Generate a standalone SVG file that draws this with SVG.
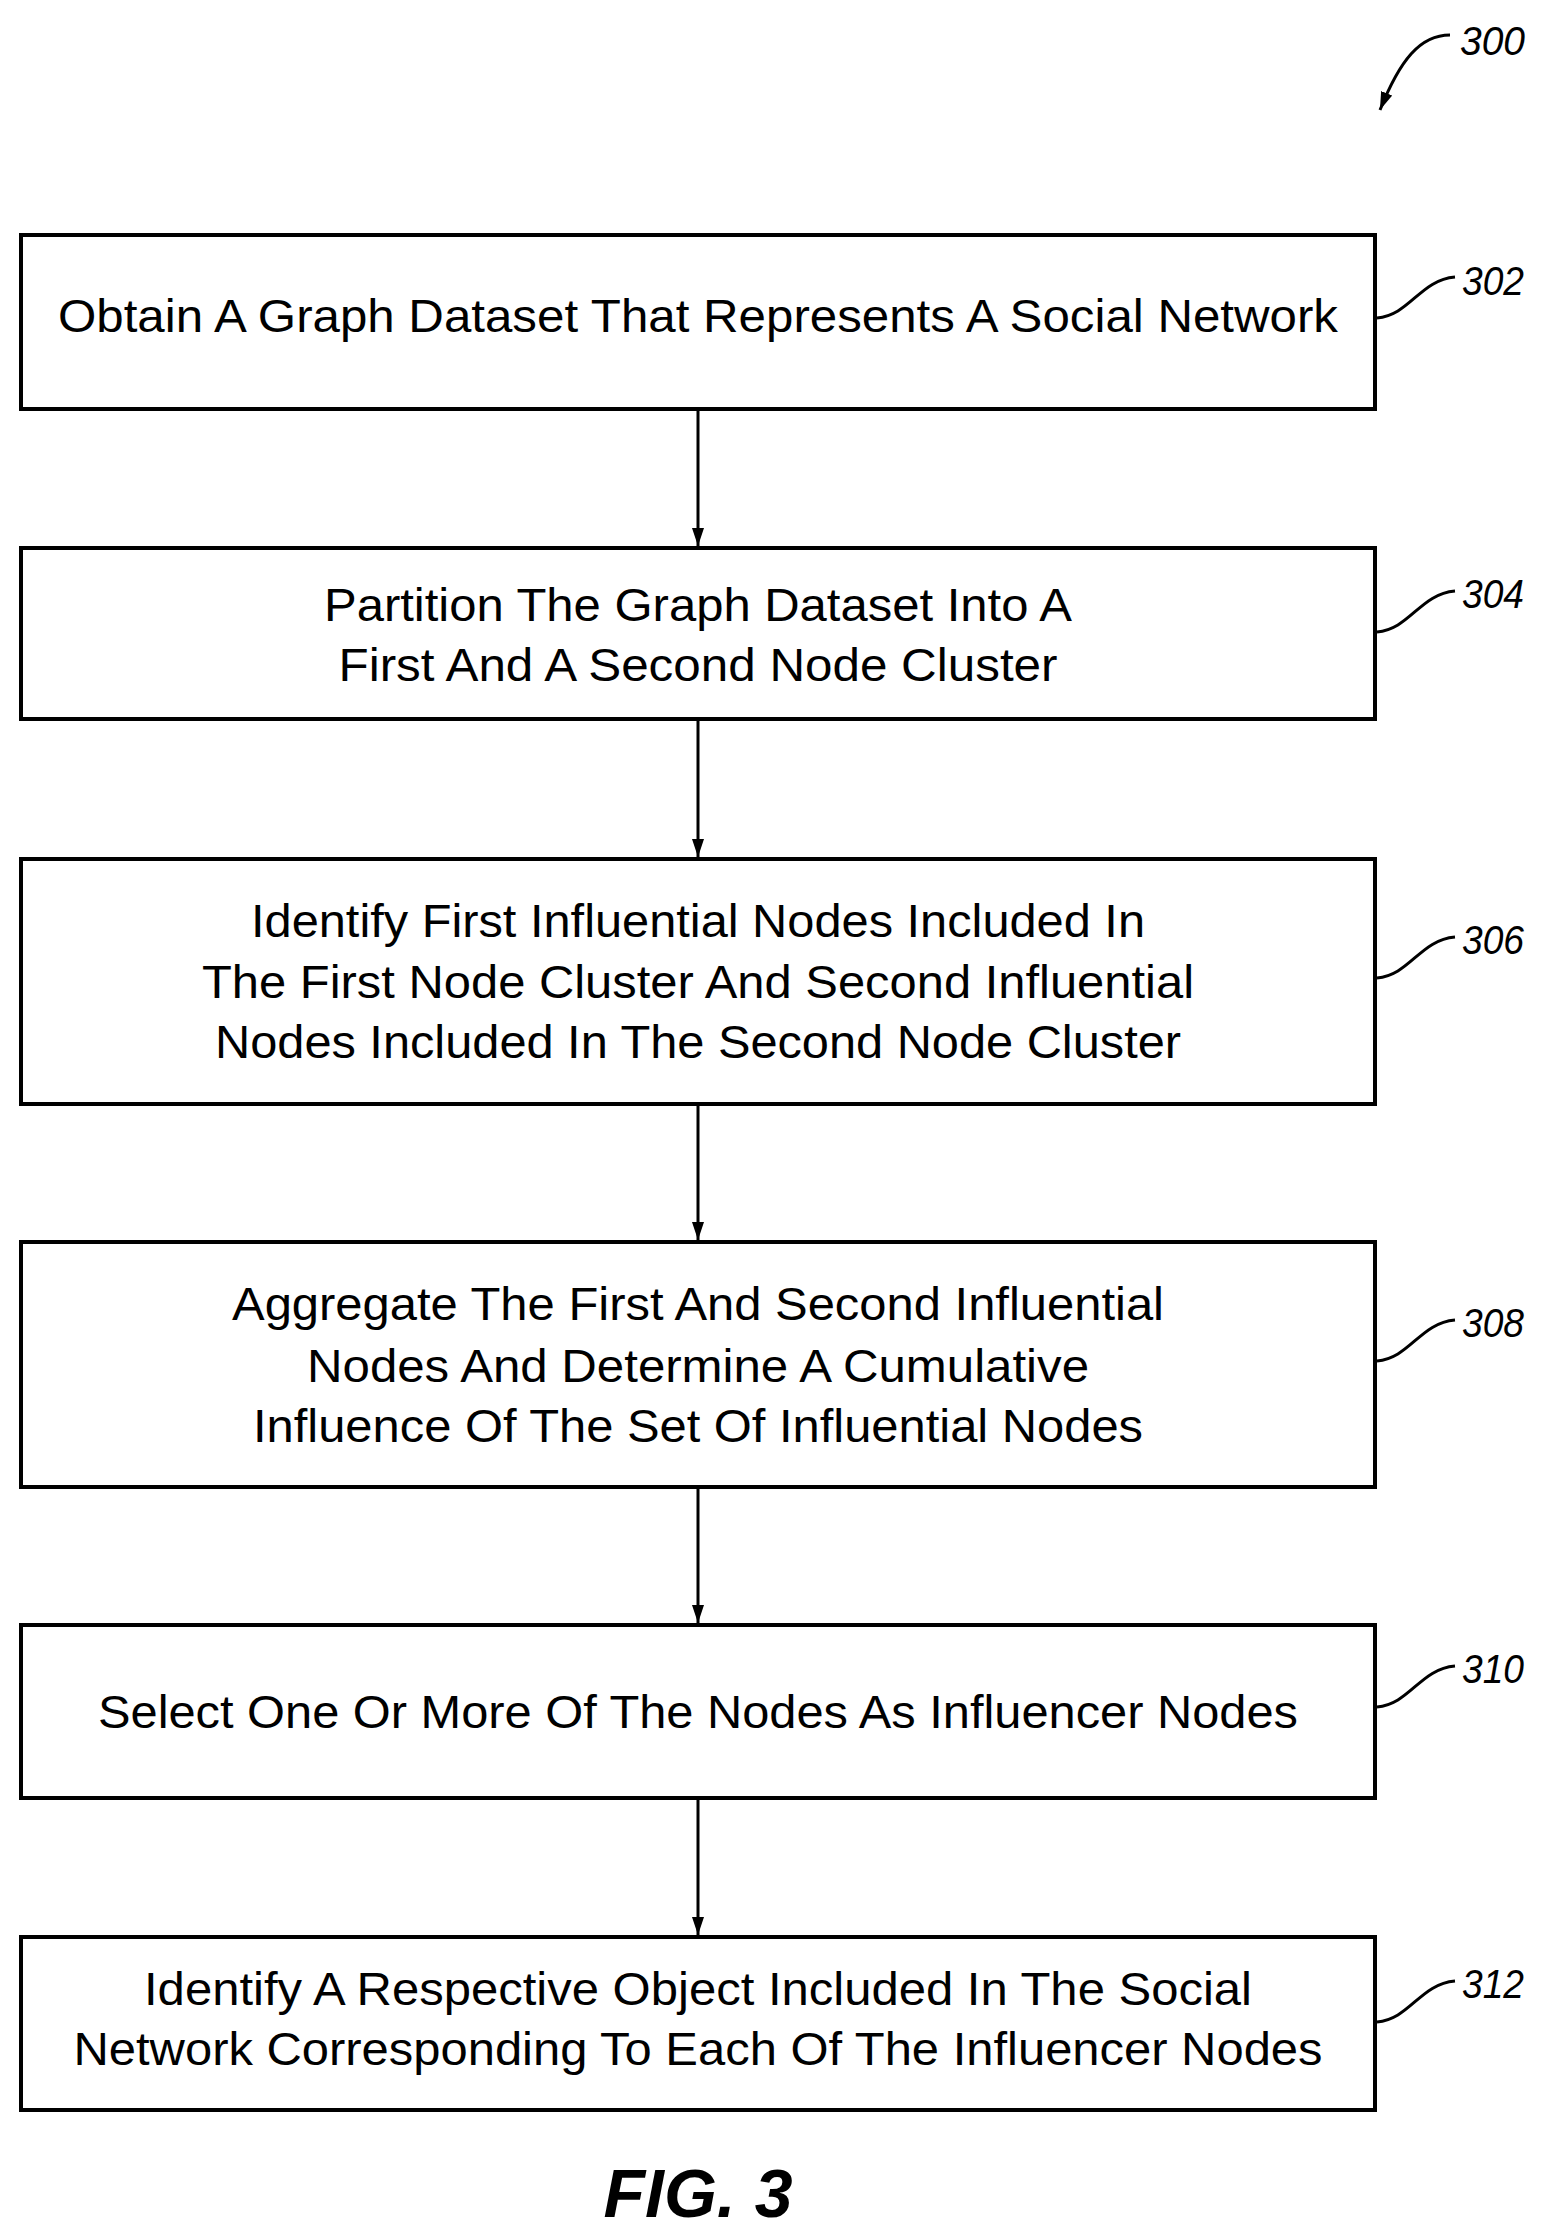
<svg xmlns="http://www.w3.org/2000/svg" width="1544" height="2230" viewBox="0 0 1544 2230">
<style>
.box{fill:#fff;stroke:#000;stroke-width:4}
.t{font-family:"Liberation Sans",sans-serif;font-size:46px;text-anchor:middle;fill:#000}
.ref{font-family:"Liberation Sans",sans-serif;font-size:40px;font-style:italic;fill:#000}
.ln{fill:none;stroke:#000;stroke-width:3}
</style>
<defs><marker id="ah" markerWidth="18" markerHeight="12" refX="18" refY="6" orient="auto" markerUnits="userSpaceOnUse" viewBox="0 0 18 12"><path d="M0,0 L18,6 L0,12 Z" fill="#000"/></marker></defs>
<rect width="1544" height="2230" fill="#fff"/>
<g id="n300"><text class="ref" x="1460" y="55" textLength="65" lengthAdjust="spacingAndGlyphs">300</text><path class="ln" d="M1450,35 C1420,35 1400,60 1380,110" marker-end="url(#ah)"/></g>
<g id="n302"><rect class="box" x="21" y="235" width="1354" height="174"/><text class="t" x="698" y="332" textLength="1280" lengthAdjust="spacingAndGlyphs">Obtain A Graph Dataset That Represents A Social Network</text><text class="ref" x="1462" y="295" textLength="62" lengthAdjust="spacingAndGlyphs">302</text><path class="ln" d="M1377,318 C1410,315 1420,280 1455,277"/></g>
<g id="n304"><rect class="box" x="21" y="548" width="1354" height="171"/><text class="t" x="698" y="621" textLength="748" lengthAdjust="spacingAndGlyphs">Partition The Graph Dataset Into A</text><text class="t" x="698" y="681" textLength="719" lengthAdjust="spacingAndGlyphs">First And A Second Node Cluster</text><text class="ref" x="1462" y="608" textLength="62" lengthAdjust="spacingAndGlyphs">304</text><path class="ln" d="M1377,632 C1410,629 1420,594 1455,591"/></g>
<g id="n306"><rect class="box" x="21" y="859" width="1354" height="245"/><text class="t" x="698" y="937" textLength="894" lengthAdjust="spacingAndGlyphs">Identify First Influential Nodes Included In</text><text class="t" x="698" y="998" textLength="992" lengthAdjust="spacingAndGlyphs">The First Node Cluster And Second Influential</text><text class="t" x="698" y="1058" textLength="966" lengthAdjust="spacingAndGlyphs">Nodes Included In The Second Node Cluster</text><text class="ref" x="1462" y="954" textLength="62" lengthAdjust="spacingAndGlyphs">306</text><path class="ln" d="M1377,978 C1410,975 1420,940 1455,937"/></g>
<g id="n308"><rect class="box" x="21" y="1242" width="1354" height="245"/><text class="t" x="698" y="1320" textLength="932" lengthAdjust="spacingAndGlyphs">Aggregate The First And Second Influential</text><text class="t" x="698" y="1382" textLength="782" lengthAdjust="spacingAndGlyphs">Nodes And Determine A Cumulative</text><text class="t" x="698" y="1442" textLength="890" lengthAdjust="spacingAndGlyphs">Influence Of The Set Of Influential Nodes</text><text class="ref" x="1462" y="1337" textLength="62" lengthAdjust="spacingAndGlyphs">308</text><path class="ln" d="M1377,1361 C1410,1358 1420,1323 1455,1320"/></g>
<g id="n310"><rect class="box" x="21" y="1625" width="1354" height="173"/><text class="t" x="698" y="1728" textLength="1200" lengthAdjust="spacingAndGlyphs">Select One Or More Of The Nodes As Influencer Nodes</text><text class="ref" x="1462" y="1683" textLength="62" lengthAdjust="spacingAndGlyphs">310</text><path class="ln" d="M1377,1707 C1410,1704 1420,1669 1455,1666"/></g>
<g id="n312"><rect class="box" x="21" y="1937" width="1354" height="173"/><text class="t" x="698" y="2005" textLength="1108" lengthAdjust="spacingAndGlyphs">Identify A Respective Object Included In The Social</text><text class="t" x="698" y="2065" textLength="1249" lengthAdjust="spacingAndGlyphs">Network Corresponding To Each Of The Influencer Nodes</text><text class="ref" x="1462" y="1998" textLength="62" lengthAdjust="spacingAndGlyphs">312</text><path class="ln" d="M1377,2022 C1410,2019 1420,1984 1455,1981"/></g>
<g id="connectors">
<line class="ln" x1="698" y1="411" x2="698" y2="546" marker-end="url(#ah)"/>
<line class="ln" x1="698" y1="721" x2="698" y2="857" marker-end="url(#ah)"/>
<line class="ln" x1="698" y1="1106" x2="698" y2="1240" marker-end="url(#ah)"/>
<line class="ln" x1="698" y1="1489" x2="698" y2="1623" marker-end="url(#ah)"/>
<line class="ln" x1="698" y1="1800" x2="698" y2="1935" marker-end="url(#ah)"/>
</g>
<text x="698" y="2217" style="font-family:'Liberation Sans',sans-serif;font-size:68px;font-style:italic;font-weight:bold;text-anchor:middle">FIG. 3</text>
</svg>
